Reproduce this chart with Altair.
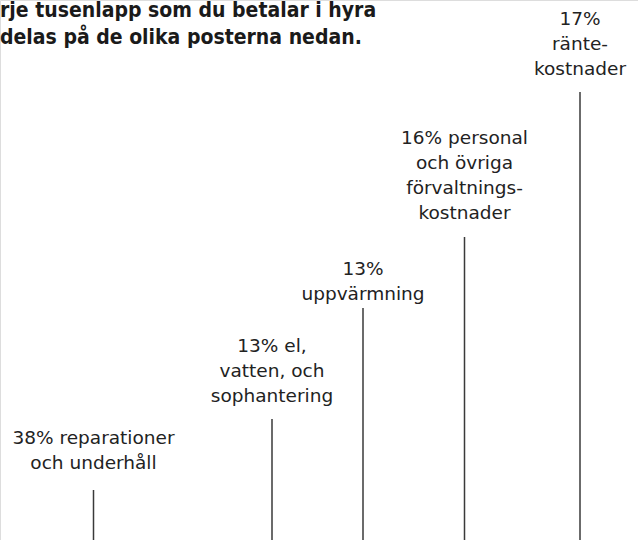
import altair as alt
import pandas as pd

# Data
percent = [38, 13, 13, 16, 17]
labels = [
    "38% reparationer\noch underhåll",
    "13% el,\nvatten, och\nsophantering",
    "13%\nuppvärmning",
    "16% personal\noch övriga\nförvaltnings-\nkostnader",
    "17%\nränte-\nkostnader",
]
# height of each leader line (label stagger) in px above the bottom
leader = [50, 121, 232, 303, 448]
title_lines = ["rje tusenlapp som du betalar i hyra", "delas på de olika posterna nedan."]

# layout: gap between a label's last baseline and its leader line top, and line spacing
gaps = [21, 17, 8, 18, 17]
LH = 25

# midpoint of each share along the (cropped) stacked strip
mids = []
acc = 0
for p in percent:
    mids.append(acc + p / 2)
    acc += p

label_y = [l + g + (len(t.split("\n")) - 1) * LH for l, g, t in zip(leader, gaps, labels)]

df = pd.DataFrame({"mid": mids, "label": labels, "leader": leader,
                   "label_y": label_y, "base": [0] * len(mids)})

W, H = 638, 540
xs = alt.Scale(domain=[0, 100], range=[-39.5, 660.5])
ys = alt.Scale(domain=[0, H], range=[H, 0])

rules = alt.Chart(df).mark_rule(color="#3a3a3a", strokeWidth=1.5).encode(
    x=alt.X("mid:Q", scale=xs, axis=None),
    y=alt.Y("leader:Q", scale=ys, axis=None),
    y2="base:Q",
)

texts = alt.Chart(df).mark_text(
    font="DejaVu Sans",
    fontSize=18.5,
    color="#222222",
    align="center",
    baseline="alphabetic",
    lineBreak="\n",
    lineHeight=LH,
).encode(
    x=alt.X("mid:Q", scale=xs, axis=None),
    y=alt.Y("label_y:Q", scale=ys, axis=None),
    text="label:N",
)

tdf = pd.DataFrame({"t": ["\n".join(title_lines)]})
title = alt.Chart(tdf).mark_text(
    font="DejaVu Sans Condensed",
    fontWeight="bold",
    fontSize=21,
    color="#1a1a1a",
    align="left",
    baseline="alphabetic",
    lineBreak="\n",
    lineHeight=27,
).encode(
    x=alt.value(0),
    y=alt.value(17),
    text="t:N",
)

chart = alt.layer(rules, texts, title).properties(
    width=W, height=H,
    autosize=alt.AutoSizeParams(type="none"),
    padding=0,
).configure_view(strokeWidth=0).configure(background="white")

chart.save("out.html", embed_options={"renderer": "svg", "actions": False})
